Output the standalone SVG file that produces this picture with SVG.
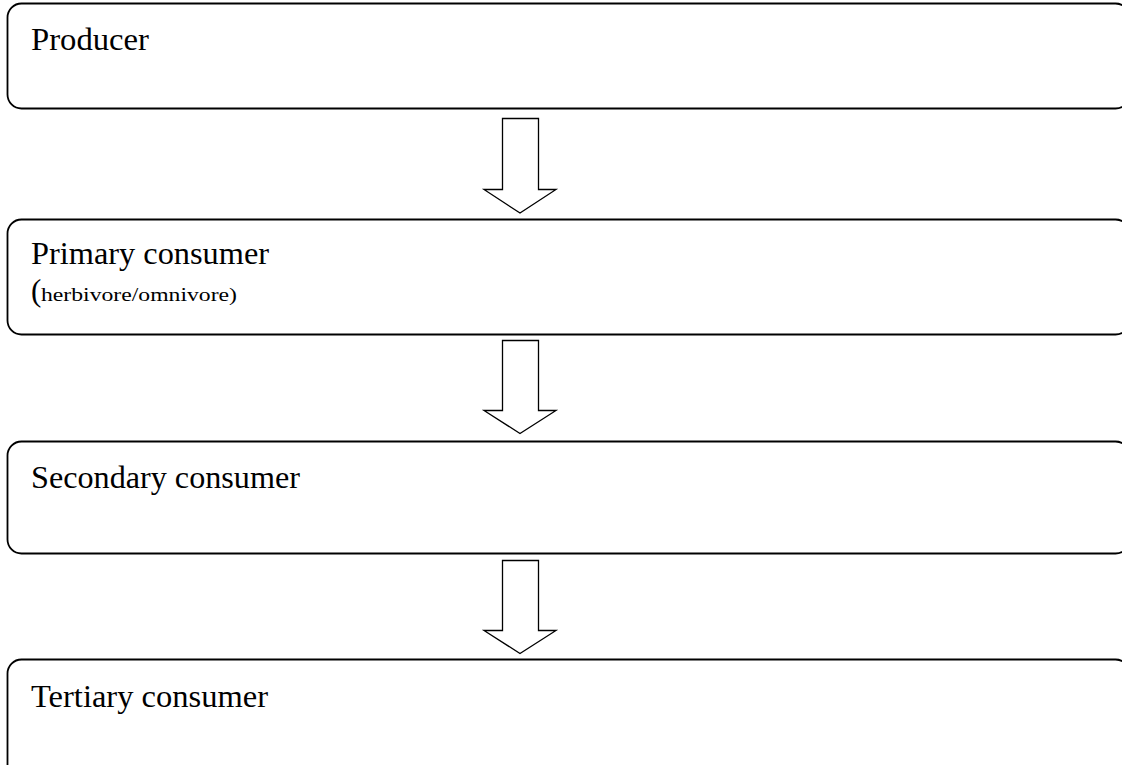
<svg xmlns="http://www.w3.org/2000/svg" width="1122" height="765" viewBox="0 0 1122 765">
<style>
.box{fill:#fff;stroke:#000;stroke-width:1.8}
.arr{fill:#fff;stroke:#000;stroke-width:1.3;stroke-linejoin:miter}
.t{font-family:"Liberation Serif","Times New Roman",serif;font-size:31px;fill:#000}
.s{font-family:"Liberation Serif","Times New Roman",serif;font-size:19px;fill:#000}
</style>
<rect width="1122" height="765" fill="#fff"/>
<g id="producer">
<rect class="box" x="7.5" y="3.5" width="1122" height="105" rx="14" ry="14"/>
<text class="t" x="31" y="50" textLength="118" lengthAdjust="spacingAndGlyphs">Producer</text>
</g>
<g id="primary">
<rect class="box" x="7.5" y="219.5" width="1122" height="115" rx="14" ry="14"/>
<text class="t" x="31" y="264" textLength="238" lengthAdjust="spacingAndGlyphs">Primary consumer</text>
<text class="t" x="31" y="301">(</text>
<text class="s" x="41" y="301" textLength="196" lengthAdjust="spacingAndGlyphs">herbivore/omnivore)</text>
</g>
<g id="secondary">
<rect class="box" x="7.5" y="441.5" width="1122" height="112" rx="14" ry="14"/>
<text class="t" x="31" y="488" textLength="269" lengthAdjust="spacingAndGlyphs">Secondary consumer</text>
</g>
<g id="tertiary">
<rect class="box" x="7.5" y="659.5" width="1122" height="140" rx="14" ry="14"/>
<text class="t" x="31" y="707" textLength="237" lengthAdjust="spacingAndGlyphs">Tertiary consumer</text>
</g>
<g id="connectors">
<path class="arr" d="M502.5,118.5 H538.5 V189.5 H556 L520,213 L484,189.5 H502.5 Z"/>
<path class="arr" d="M502.5,340.5 H538.5 V410.5 H556 L520,433.5 L484,410.5 H502.5 Z"/>
<path class="arr" d="M502.5,560.5 H538.5 V630.5 H556 L520,653.5 L484,630.5 H502.5 Z"/>
</g>
</svg>
